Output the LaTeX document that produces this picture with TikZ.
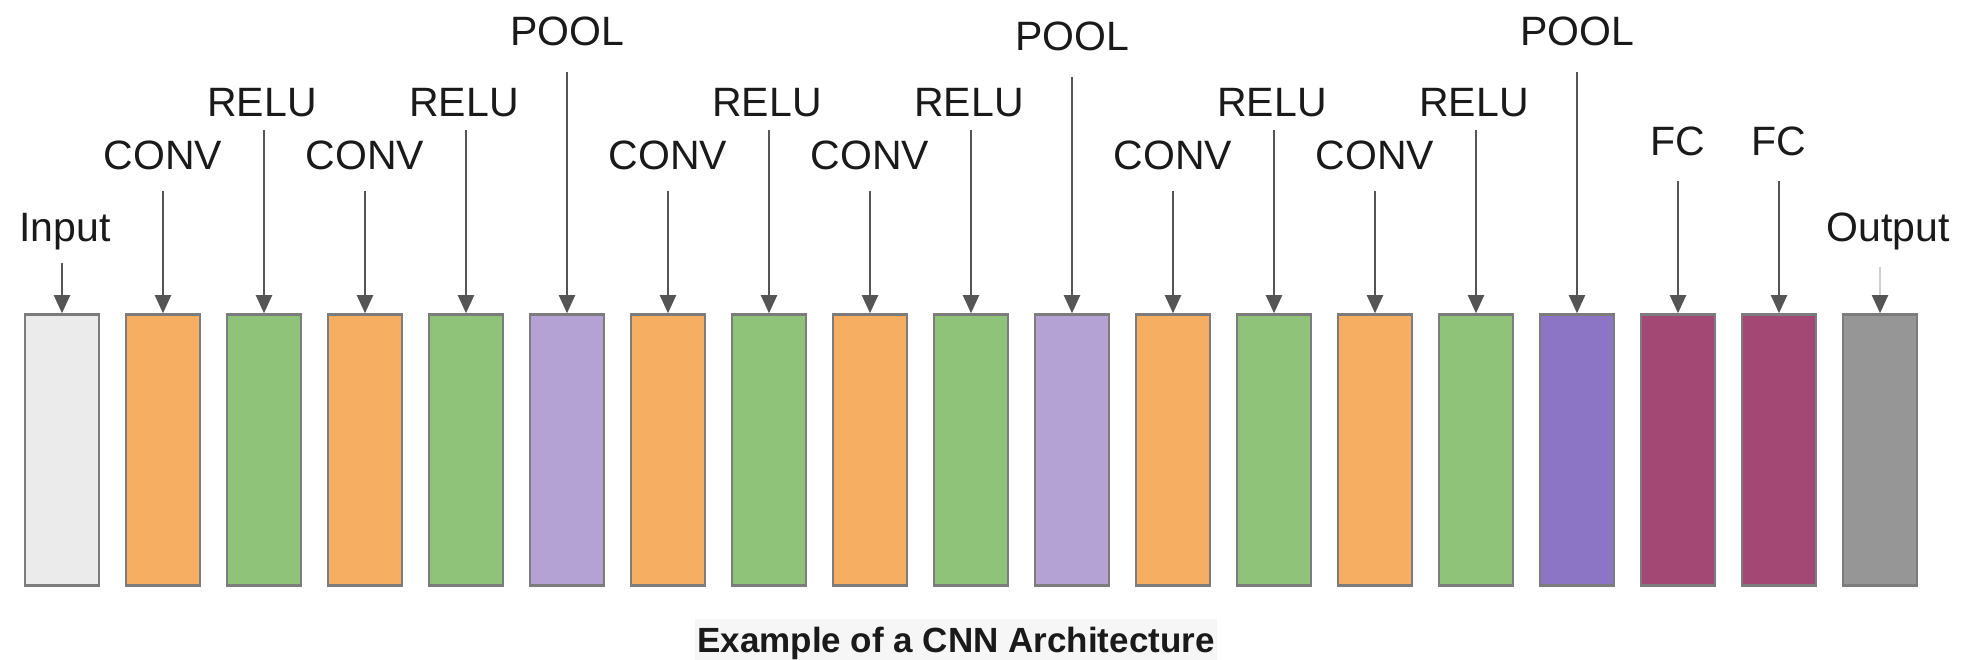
\documentclass[tikz,border=0pt]{standalone}
\usepackage{fontspec}
\setmainfont{Liberation Sans}
\usetikzlibrary{arrows.meta}

% layer fills
\definecolor{inputc}{HTML}{EBEBEB}
\definecolor{convc}{HTML}{F5AE62}
\definecolor{reluc}{HTML}{8FC379}
\definecolor{poolc}{HTML}{B3A2D3}
\definecolor{poolb}{HTML}{8C75C4}
\definecolor{fcc}{HTML}{A34874}
\definecolor{outc}{HTML}{969696}
% lines and text
\definecolor{edgegray}{HTML}{7C7C7C}
\definecolor{arrowgray}{HTML}{555555}
\definecolor{shaftlight}{HTML}{CFCFCF}
\definecolor{labeltext}{HTML}{1A1A1A}
\definecolor{capbg}{HTML}{F6F6F6}

\begin{document}
\begin{tikzpicture}[x=1pt,y=-1pt,
  layer/.style={draw=edgegray, line width=2.5pt, minimum width=74pt,
    minimum height=271pt, inner sep=0pt, anchor=center},
  lbl/.style={font=\fontsize{41}{48}\selectfont, text=labeltext,
    inner sep=0pt, anchor=base},
  feed/.style={line width=2pt,
    -{Triangle[width=16pt,length=18pt,color=arrowgray]}},
  captionbox/.style={font=\bfseries\fontsize{35}{42}\selectfont,
    text=labeltext, fill=capbg, inner xsep=2pt, inner ysep=0pt,
    text height=33pt, text depth=9pt, anchor=base}
]
\useasboundingbox (0,0) rectangle (1962,660);

% one column per layer: index / label / fill / label baseline / arrow start / label shift / shaft colour
\foreach \i/\lab/\fc/\ly/\sy/\dx/\sc in {
  1/Input/inputc/242/263/3/arrowgray,
  2/CONV/convc/170/191/0/arrowgray,
  3/RELU/reluc/117/130/-2/arrowgray,
  4/CONV/convc/170/191/0/arrowgray,
  5/RELU/reluc/117/130/-2/arrowgray,
  6/POOL/poolc/46/72/0/arrowgray,
  7/CONV/convc/170/191/0/arrowgray,
  8/RELU/reluc/117/130/-2/arrowgray,
  9/CONV/convc/170/191/0/arrowgray,
  10/RELU/reluc/117/130/-2/arrowgray,
  11/POOL/poolc/51/77/0/arrowgray,
  12/CONV/convc/170/191/0/arrowgray,
  13/RELU/reluc/117/130/-2/arrowgray,
  14/CONV/convc/170/191/0/arrowgray,
  15/RELU/reluc/117/130/-2/arrowgray,
  16/POOL/poolb/46/72/0/arrowgray,
  17/FC/fcc/156/181/0/arrowgray,
  18/FC/fcc/156/181/0/arrowgray,
  19/Output/outc/242/267/8/shaftlight} {
  \pgfmathsetmacro\cx{62+101*(\i-1)}
  \node[layer, fill=\fc] (b\i) at (\cx,450) {};
  \node[lbl] (l\i) at (\cx+\dx,\ly) {\lab};
  \coordinate (s\i) at (\cx,\sy);
  \draw[feed, draw=\sc] (s\i) -- (b\i.north);
}

\node[captionbox] (cap) at (956,652) {Example of a CNN Architecture};
\end{tikzpicture}
\end{document}
